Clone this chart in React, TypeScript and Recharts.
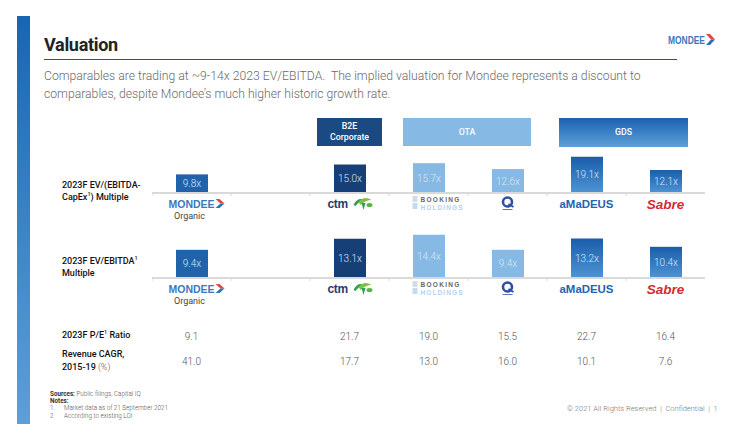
import { BarChart, Bar, XAxis, YAxis, Cell, LabelList } from 'recharts';

// companies in column order; 'Gap' is the empty slot after Mondee
const companies = ['Mondee', 'Gap', 'CTM', 'Booking', 'Expedia', 'Amadeus', 'Sabre'];
const segments = ['mondee', 'none', 'b2e', 'ota', 'ota', 'gds', 'gds'];
const evEbitdaCapex = [9.8, null, 15.0, 15.7, 12.6, 19.1, 12.1];
const evEbitda = [9.4, null, 13.1, 14.4, 9.4, 13.2, 10.4];
const peRatio = [9.1, null, 21.7, 19.0, 15.5, 22.7, 16.4];
const revenueCagr = [41.0, null, 17.7, 13.0, 16.0, 10.1, 7.6];

const row1 = companies.map((name, i) => ({ name, value: evEbitdaCapex[i], segment: segments[i] }));
const row2 = companies.map((name, i) => ({ name, value: evEbitda[i], segment: segments[i] }));
const tableRows = companies.map((name, i) => ({ name, pe: peRatio[i], cagr: revenueCagr[i] }));

const FONT = 'Roboto, "Noto Sans", sans-serif';
const CHART_LEFT = 152;
const CHART_WIDTH = 553;

const fillFor = (segment: string, gradId: string) => {
  if (segment === 'mondee') return '#2163ab';
  if (segment === 'b2e') return '#163f77';
  if (segment === 'ota') return '#86b9e4';
  return `url(#${gradId})`;
};

const LogoTick = ({ x, y, payload }: any) => {
  const name = payload.value;
  let logo = null;
  if (name === 'Mondee') {
    logo = (
      <>
        <text x={-23} y={15} textLength={46} lengthAdjust="spacingAndGlyphs" fontFamily="'Liberation Sans', Arial" fontWeight={900} fontSize={10} fill="#3b77bd">
          MONDEE
        </text>
        <polygon points="24,6 28,6 33,10.5 29,10.5" fill="#e5463b" />
        <polygon points="29,10.5 33,10.5 28,15 24,15" fill="#2b6fc0" />
        <text x={-2} y={26} textAnchor="middle" fontFamily={FONT} fontSize={9} fill="#444">
          Organic
        </text>
      </>
    );
  } else if (name === 'CTM') {
    logo = (
      <>
        <text x={-22} y={15} fontFamily="'Liberation Sans', Arial" fontWeight={700} fontSize={12} fill="#1f3d70" letterSpacing={-0.3}>
          ctm
        </text>
        <path d="M4,12 C7,6 11,5 14,7 C11,8 8,10 6,13 Z" fill="#2e9e55" />
        <path d="M9,9 C13,4 18,4 22,7 C18,7 14,9 11,12 Z" fill="#7cc243" />
        <path d="M12,10 L14,17 L16,10 Z" fill="#2e9e55" />
        <ellipse cx={20} cy={12} rx={3} ry={2} fill="#5bb246" />
      </>
    );
  } else if (name === 'Booking') {
    logo = (
      <>
        <rect x={-16} y={3} width={5} height={6} fill="#d3dde8" />
        <rect x={-16} y={10} width={5} height={6} fill="#c3dbf1" />
        <text x={-8} y={9} fontFamily="'Liberation Sans', Arial" fontWeight={700} fontSize={6.5} fill="#666" letterSpacing={1.3}>
          BOOKING
        </text>
        <text x={-8} y={16.5} fontFamily="'Liberation Sans', Arial" fontWeight={700} fontSize={6.5} fill="#b3d2ee" letterSpacing={1.1}>
          HOLDINGS
        </text>
      </>
    );
  } else if (name === 'Expedia') {
    logo = (
      <>
        <circle cx={0} cy={9} r={4.5} fill="none" stroke="#2f4fa0" strokeWidth={2.6} />
        <path d="M1,11 L6,14" stroke="#2f4fa0" strokeWidth={2} />
        <line x1={-5} x2={5} y1={16.5} y2={16.5} stroke="#5a74b8" strokeWidth={1} />
      </>
    );
  } else if (name === 'Amadeus') {
    logo = (
      <text x={-27} y={15} textLength={54} lengthAdjust="spacingAndGlyphs" fontFamily="'Liberation Sans', Arial" fontWeight={700} fontSize={10.5} fill="#2364b0">
        aMaDEUS
      </text>
    );
  } else if (name === 'Sabre') {
    logo = (
      <text x={0} y={15.5} textAnchor="middle" fontFamily="'Liberation Sans', Arial" fontWeight={700} fontStyle="italic" fontSize={13.5} fill="#d42a33">
        Sabre
      </text>
    );
  }
  return (
    <g transform={`translate(${x},${y})`}>
      <line x1={-39.5} x2={-39.5} y1={0} y2={3} stroke="#d6d6d6" />
      {logo}
    </g>
  );
};

const ValueTick = ({ x, y, payload, field }: any) => {
  const item = tableRows.find((r) => r.name === payload.value);
  const v = item ? (item as any)[field] : null;
  if (v == null) return null;
  return (
    <text x={x} y={y + 14} textAnchor="middle" fontFamily={FONT} fontWeight={300} fontSize={10} fill="#555">
      {v.toFixed(1)}
    </text>
  );
};

interface MultipleRowProps {
  data: { name: string; value: number | null; segment: string }[];
  max: number;
  plotHeight: number;
  gradId: string;
}

function MultipleRow({ data, max, plotHeight, gradId }: MultipleRowProps) {
  return (
    <BarChart width={CHART_WIDTH} height={plotHeight + 40} data={data} margin={{ top: 0, right: 0, left: 0, bottom: 0 }} barSize={32}>
      <defs>
        <linearGradient id={gradId} x1="0" y1="0" x2="0" y2="1">
          <stop offset="0%" stopColor="#1a5eab" />
          <stop offset="100%" stopColor="#4f94d4" />
        </linearGradient>
      </defs>
      <XAxis
        dataKey="name"
        height={40}
        axisLine={{ stroke: '#d9d9d9', strokeWidth: 2 }}
        tickLine={false}
        tickSize={0}
        tickMargin={0}
        interval={0}
        tick={<LogoTick />}
      />
      <YAxis hide domain={[0, max]} />
      <Bar dataKey="value" isAnimationActive={false}>
        {data.map((d, i) => (
          <Cell key={`cell-${i}`} fill={fillFor(d.segment, gradId)} />
        ))}
        <LabelList
          dataKey="value"
          position="center"
          formatter={(v: any) => (v == null ? '' : `${Number(v).toFixed(1)}x`)}
          style={{ fill: '#dbe6f3', fontSize: 10, fontWeight: 300, fontFamily: FONT }}
        />
      </Bar>
    </BarChart>
  );
}

const abs = (left: number, top: number, extra: any = {}) => ({ position: 'absolute' as const, left, top, ...extra });

const Sup = () => <span style={{ fontSize: 5.5, position: 'relative', top: -4, lineHeight: 0 }}>1</span>;

export default function App() {
  const rowLabel = { fontFamily: FONT, fontWeight: 500, fontSize: 9, color: '#111', lineHeight: '11.5px' };
  return (
    <div style={{ position: 'absolute', left: 0, top: 0, width: 754, height: 424, background: '#fff', overflow: 'hidden', fontFamily: FONT }}>
      {/* left accent bar */}
      <div style={abs(17, 16, { width: 13, height: 408, background: 'linear-gradient(#1766b4, #5f9fd8)' })} />

      {/* title */}
      <div style={abs(44, 34, { fontSize: 18, fontWeight: 700, color: '#222', letterSpacing: -0.3 })}>Valuation</div>
      <div style={abs(44, 58.5, { width: 633, height: 1.5, background: '#1f5a7c' })} />

      {/* top-right logo */}
      <svg style={abs(666, 31)} width={52} height={18}>
        <text x={2} y={13} textLength={37} lengthAdjust="spacingAndGlyphs" fontFamily="'Liberation Sans', Arial" fontWeight={900} fontSize={10} fill="#3b77bd">
          MONDEE
        </text>
        <polygon points="40,3 44,3 49,8.5 45,8.5" fill="#e5463b" />
        <polygon points="45,8.5 49,8.5 44,14 40,14" fill="#2b6fc0" />
      </svg>

      {/* subtitle */}
      <div style={abs(44, 67, { fontSize: 12.2, fontWeight: 300, color: '#6a6a6a', lineHeight: '18px', whiteSpace: 'nowrap' })}>
        Comparables are trading at ~9-14x 2023 EV/EBITDA.&nbsp; The implied valuation for Mondee represents a discount to
        <br />
        comparables, despite Mondee’s much higher historic growth rate.
      </div>

      {/* segment headers */}
      <div style={abs(317, 118, { width: 65, height: 28, background: '#1b4a82', color: '#fff', fontSize: 8.8, fontWeight: 500, textAlign: 'center', lineHeight: '11px', paddingTop: 3, boxSizing: 'border-box' })}>
        B2E
        <br />
        Corporate
      </div>
      <div style={abs(403, 118, { width: 128, height: 28, background: '#86b9e4', color: '#fff', fontSize: 8.8, fontWeight: 500, textAlign: 'center', lineHeight: '28px' })}>
        OTA
      </div>
      <div style={abs(559, 118, { width: 129, height: 29, background: 'linear-gradient(#1c62b0, #5da0da)', color: '#fff', fontSize: 8.8, fontWeight: 500, textAlign: 'center', lineHeight: '29px' })}>
        GDS
      </div>

      {/* row labels */}
      <div style={abs(62, 180, rowLabel)}>
        2023F EV/(EBITDA-
        <br />
        CapEx<Sup />) Multiple
      </div>
      <div style={abs(62, 256, rowLabel)}>
        2023F EV/EBITDA<Sup />
        <br />
        Multiple
      </div>
      <div style={abs(62, 330, rowLabel)}>
        2023F P/E<Sup /> Ratio
      </div>
      <div style={abs(62, 348, { ...rowLabel, lineHeight: '13px' })}>
        Revenue CAGR,
        <br />
        2015-19 <span style={{ fontWeight: 300, color: '#555' }}>(%)</span>
      </div>

      {/* bar rows */}
      <div style={abs(CHART_LEFT, 155)}>
        <MultipleRow data={row1} max={20} plotHeight={38} gradId="gdsFill1" />
      </div>
      <div style={abs(CHART_LEFT, 233)}>
        <MultipleRow data={row2} max={15} plotHeight={45} gradId="gdsFill2" />
      </div>

      {/* table rows: axis 'a' (P/E) sits nearest the plot, 'b' (CAGR) below it */}
      <div style={abs(CHART_LEFT, 324)}>
        <BarChart width={CHART_WIDTH} height={52} data={tableRows} margin={{ top: 0, right: 0, left: 0, bottom: 0 }}>
          <XAxis xAxisId="a" dataKey="name" height={25} axisLine={false} tickLine={false} tickSize={0} tickMargin={0} interval={0} tick={<ValueTick field="pe" />} />
          <XAxis xAxisId="b" dataKey="name" height={25} axisLine={false} tickLine={false} tickSize={0} tickMargin={0} interval={0} tick={<ValueTick field="cagr" />} />
          <YAxis hide />
          <Bar xAxisId="a" dataKey="pe" fill="transparent" isAnimationActive={false} />
          <Bar xAxisId="b" dataKey="cagr" fill="transparent" isAnimationActive={false} />
        </BarChart>
      </div>

      {/* notes */}
      <div style={abs(50, 391, { fontSize: 6.3, color: '#555', lineHeight: '7.2px', fontWeight: 300 })}>
        <div>
          <span style={{ fontWeight: 700, color: '#333' }}>Sources:</span> Public filings, Capital IQ
        </div>
        <div style={{ fontWeight: 700, color: '#333' }}>Notes:</div>
        <div>
          1.<span style={{ marginLeft: 9 }}>Market data as of 21 September 2021</span>
        </div>
        <div>
          2.<span style={{ marginLeft: 9 }}>According to existing LOI</span>
        </div>
      </div>

      {/* footer */}
      <div style={abs(567, 404, { fontSize: 7.5, color: '#777', fontWeight: 300, whiteSpace: 'nowrap' })}>
        © 2021 All Rights Reserved&nbsp;&nbsp;|&nbsp;&nbsp;Confidential&nbsp;&nbsp;|&nbsp;&nbsp;1
      </div>
    </div>
  );
}
